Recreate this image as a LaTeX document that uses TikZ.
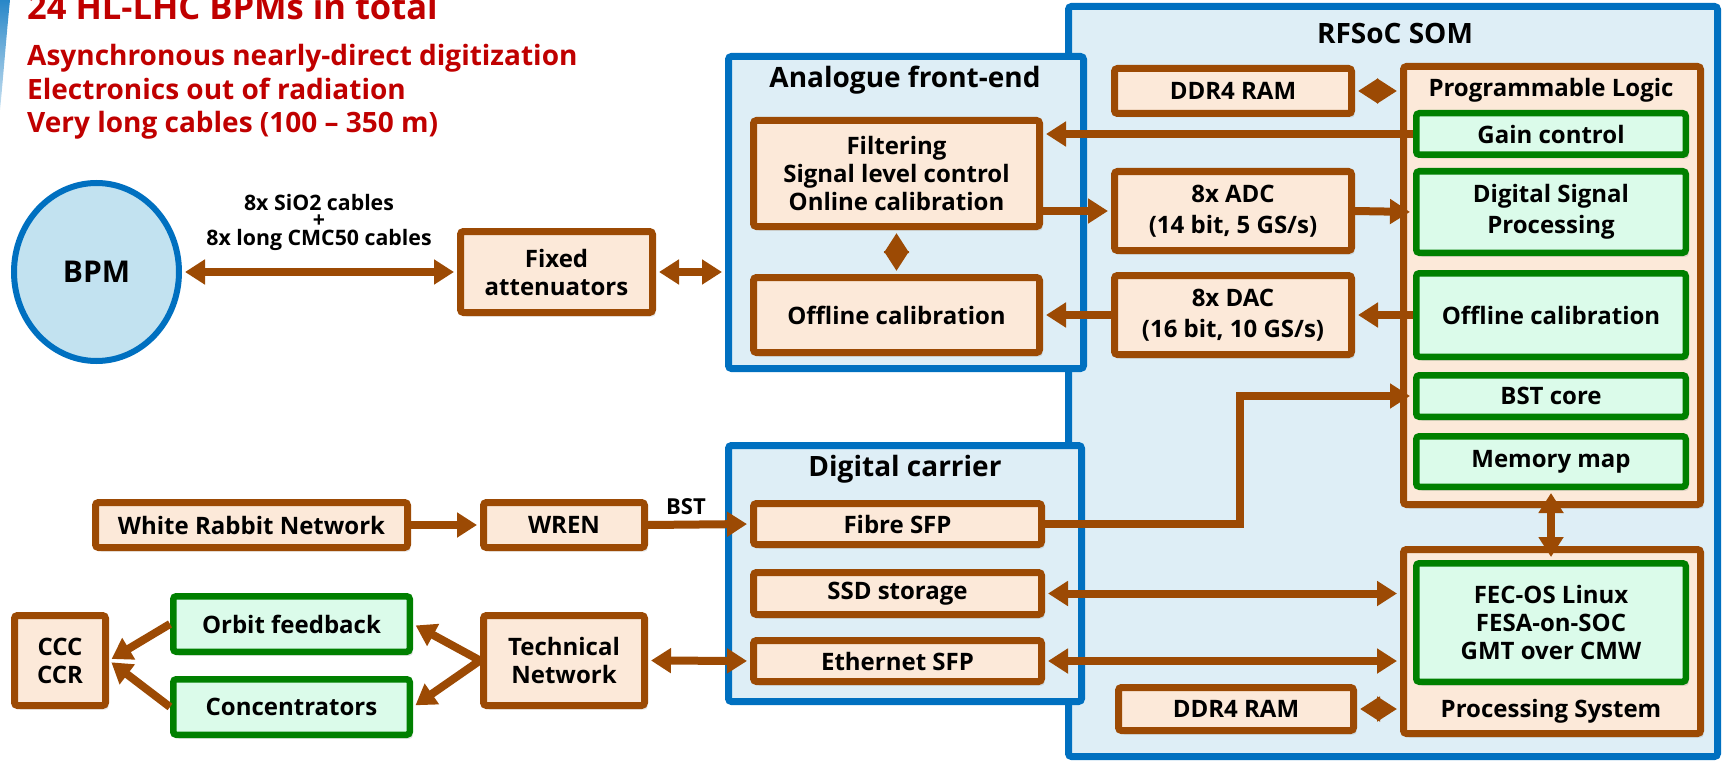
\documentclass[tikz,border=0pt]{standalone}
\usepackage{fontspec}
\setmainfont{Open Sans}
\usetikzlibrary{arrows.meta,shadows,shapes.geometric}

\definecolor{ebrown}{RGB}{156,74,4}
\definecolor{epeach}{RGB}{252,233,217}
\definecolor{egreen}{RGB}{0,128,0}
\definecolor{emint}{RGB}{219,251,234}
\definecolor{eblue}{RGB}{0,112,192}
\definecolor{epale}{RGB}{222,238,246}
\definecolor{ebpm}{RGB}{194,226,240}
\definecolor{ered}{RGB}{192,0,0}
\definecolor{earc}{RGB}{40,135,200}

\newcommand\boxfont{\bfseries\fontsize{24}{28}\selectfont}
\newcommand\headfont{\bfseries\fontsize{28}{30}\selectfont}

\tikzset{
  brownbox/.style={draw=ebrown, fill=epeach, line width=7pt, rounded corners=3pt,
    inner sep=0pt, align=center, font=\boxfont,
    drop shadow={shadow xshift=3pt, shadow yshift=-4pt, opacity=0.2}},
  greenbox/.style={brownbox, draw=egreen, fill=emint, line width=6.5pt},
  bluebox/.style={draw=eblue, fill=epale, line width=7pt, rounded corners=3pt, inner sep=0pt},
  conn/.style={draw=ebrown, line width=8pt, shorten >=3pt,
    -{Triangle[length=20pt,width=24pt]}},
  dconn/.style={conn, shorten <=3pt,
    {Triangle[length=20pt,width=24pt]}-{Triangle[length=20pt,width=24pt]}},
  headline/.style={anchor=base west, inner sep=0pt, text=ered, font=\headfont},
}

\begin{document}
\begin{tikzpicture}[x=1pt,y=-1pt]
    \useasboundingbox (0,0) rectangle (1727,765);

    % Slide corner and header
    \shade[top color=earc, bottom color=earc!25] (0,0) -- (10,0) .. controls (6,40) and (3,80) .. (0,110) -- cycle;
    \node[headline, font=\bfseries\fontsize{34.5}{36}\selectfont] (title) at (27,20) {24 HL-LHC BPMs in total};
    \node[headline] (l1) at (27,66) {Asynchronous nearly-direct digitization};
    \node[headline] (l2) at (27,100) {Electronics out of radiation};
    \node[headline] (l3) at (27,133) {Very long cables (100 -- 350 m)};

    % Containers
    \node[bluebox, minimum width=649pt, minimum height=750pt] (rfsoc) at (1393,381.5) {};
    \node[bluebox, minimum width=355pt, minimum height=312pt] (afe) at (906,212.5) {};
    \node[bluebox, minimum width=353pt, minimum height=256pt] (dcar) at (905,573.5) {};
    \node[font=\headfont] (rfsoctitle) at (1395,33) {RFSoC SOM};
    \node[font=\headfont] (afetitle) at (905,80) {Analogue front-end};
    \node[font=\headfont] (dcartitle) at (905,469) {Digital carrier};

    % BPM side
    \node[ellipse, draw=eblue, fill=ebpm, line width=6pt, minimum width=165pt, minimum height=178pt,
      font={\bfseries\fontsize{30}{32}\selectfont}] (bpm) at (96.5,272) {BPM};
    \node[align=center, font={\bfseries\fontsize{21.3}{17.5}\selectfont}] (cables) at (319,222)
      {8x SiO2 cables\\+\\8x long CMC50 cables};
    \node[brownbox, minimum width=192pt, minimum height=81pt] (fixed) at (556.5,272) {Fixed\\attenuators};

    % Analogue front-end
    \node[brownbox, minimum width=286pt, minimum height=106pt] (filt) at (896.5,173.5)
      {Filtering\\Signal level control\\Online calibration};
    \node[brownbox, minimum width=286pt, minimum height=75pt] (offl) at (896.5,315) {Offline calibration};

    % RFSoC SOM
    \node[brownbox, minimum width=237pt, minimum height=45pt] (ddra) at (1233,91) {DDR4 RAM};
    \node[brownbox, minimum width=237pt, minimum height=79pt] (adc) at (1233,211) {8x ADC\\[3pt](14 bit, 5 GS/s)};
    \node[brownbox, minimum width=237pt, minimum height=79pt] (dac) at (1233,315) {8x DAC\\[3pt](16 bit, 10 GS/s)};
    \node[brownbox, minimum width=297pt, minimum height=438pt] (pl) at (1552,285.5) {};
    \node[font=\boxfont] (pltitle) at (1551,90) {Programmable Logic};
    \node[greenbox, minimum width=269.5pt, minimum height=41.5pt] (gain) at (1551,134) {Gain control};
    \node[greenbox, minimum width=269.5pt, minimum height=81.5pt] (dsp) at (1551,212) {Digital Signal\\[3pt]Processing};
    \node[greenbox, minimum width=269.5pt, minimum height=83.5pt] (offr) at (1551,315) {Offline calibration};
    \node[greenbox, minimum width=269.5pt, minimum height=41.5pt] (bstc) at (1551,396) {BST core};
    \node[greenbox, minimum width=269.5pt, minimum height=50.5pt] (mem) at (1551,461.5) {Memory map};
    \node[brownbox, minimum width=297pt, minimum height=184pt] (ps) at (1552,641.5) {};
    \node[greenbox, minimum width=269.5pt, minimum height=118.5pt] (fec) at (1551,622.5)
      {FEC-OS Linux\\FESA-on-SOC\\GMT over CMW};
    \node[font=\boxfont] (pstitle) at (1551,711) {Processing System};
    \node[brownbox, minimum width=235pt, minimum height=43pt] (ddrb) at (1236,709) {DDR4 RAM};

    % Digital carrier
    \node[brownbox, minimum width=288pt, minimum height=41pt] (fibre) at (897.5,524) {Fibre SFP};
    \node[brownbox, minimum width=288pt, minimum height=42pt] (ssd) at (897.5,593.5) {SSD storage};
    \node[brownbox, minimum width=288pt, minimum height=41pt] (eth) at (897.5,661) {Ethernet SFP};

    % Networks
    \node[brownbox, minimum width=312pt, minimum height=45pt] (wr) at (251.5,525) {White Rabbit Network};
    \node[brownbox, minimum width=161pt, minimum height=45pt] (wren) at (564,525) {WREN};
    \node[font={\bfseries\fontsize{22}{24}\selectfont}] (bstlbl) at (686,507) {BST};
    \node[brownbox, minimum width=161pt, minimum height=90pt] (tech) at (564,660.5) {Technical\\Network};
    \node[brownbox, minimum width=91pt, minimum height=90pt] (ccc) at (60,660.5) {CCC\\CCR};
    \node[greenbox, minimum width=236.5pt, minimum height=55.5pt] (orbit) at (291.5,624) {Orbit feedback};
    \node[greenbox, minimum width=236.5pt, minimum height=55.5pt] (conc) at (291.5,707) {Concentrators};

    % Connections
    \draw[dconn] (bpm.east) -- (fixed.west);
    \draw[dconn] (fixed.east) -- (fixed.east -| afe.west);
    \draw[conn] (gain.west) -- (gain.west -| filt.east);
    \draw[dconn] (filt.south) -- (offl.north);
    \draw[conn] (filt.east |- adc.west) -- (adc.west);
    \draw[conn] (adc.east) -- (dsp.west);
    \draw[conn] (offr.west) -- (dac.east);
    \draw[conn] (dac.west) -- (offl.east);
    \draw[dconn] (ddra.east) -- (ddra.east -| pl.west);
    \draw[dconn] (mem.south) -- (fec.north);
    \draw[dconn] (ddrb.east) -- (ddrb.east -| ps.west);
    \draw[dconn] (ssd.east) -- (ssd.east -| ps.west);
    \draw[dconn] (eth.east) -- (eth.east -| ps.west);
    \coordinate (bend) at (1240,524);
    \draw[conn] (fibre.east) -- (bend) |- (bstc.west);
    \draw[conn] (wr.east) -- (wren.west);
    \draw[conn] (wren.east) -- (fibre.west);
    \draw[dconn] (tech.east) -- (eth.west);
    \draw[conn] (tech.west) -- (orbit.east);
    \draw[conn] (tech.west) -- (conc.east);
    \draw[conn] (orbit.west) -- (ccc.east);
    \draw[conn] (conc.west) -- (ccc.east);
\end{tikzpicture}
\end{document}
